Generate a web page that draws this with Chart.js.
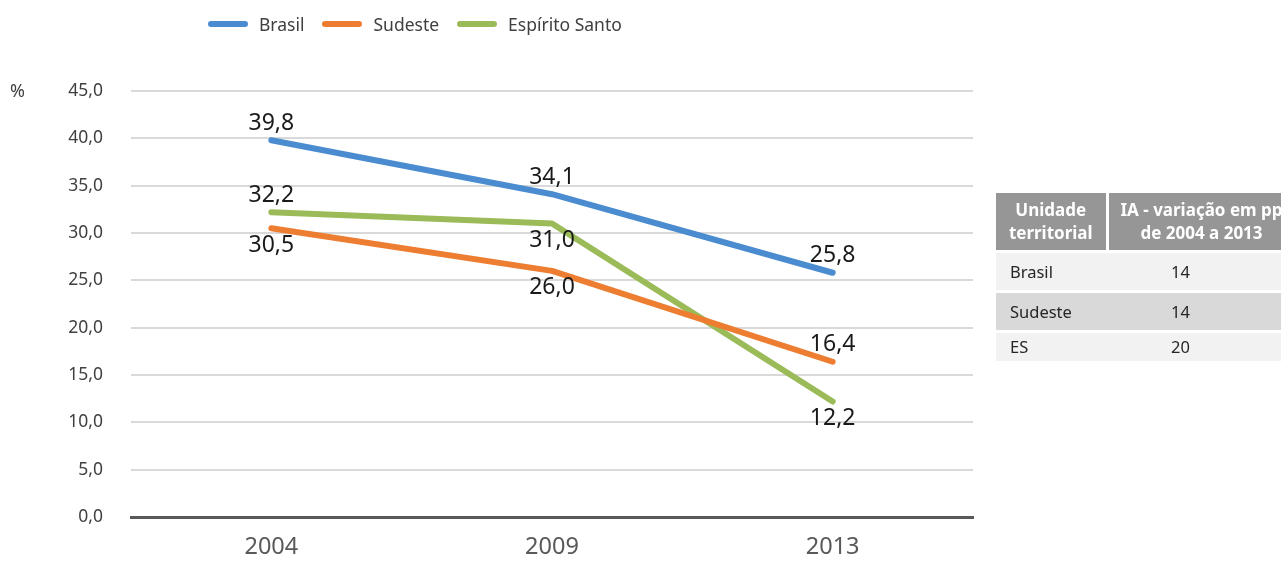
<!DOCTYPE html>
<html>
<head>
<meta charset="utf-8">
<script src="https://cdn.jsdelivr.net/npm/chart.js@4"></script>
<style>
  body { margin: 0; width: 1281px; height: 563px; overflow: hidden; background: #fff; font-family: 'Noto Sans', sans-serif; position: relative; }
  #wrap { position: absolute; left: 0; top: 0; width: 1281px; height: 563px; }
  #legend { position: absolute; left: 208px; top: 12px; display: flex; align-items: center; font-size: 17.5px; color: #404040; }
  #legend .item { display: flex; align-items: center; margin-right: 18px; }
  #legend .sw { width: 40px; height: 6px; border-radius: 3px; margin-right: 11px; }
  #pct { position: absolute; left: 10px; top: 78px; font-size: 18px; color: #404040; }
  #tbl { position: absolute; left: 996px; top: 193px; width: 300px; border-collapse: collapse; font-size: 16.5px; color: #262626; table-layout: fixed; }
  #tbl th { background: #969696; color: #fff; font-weight: bold; font-size: 17px; line-height: 23px; height: 58px; padding: 0; border-right: 3px solid #fff; box-sizing: border-box; white-space: nowrap; }
  #tbl td { height: 37px; padding: 0 0 0 14px; border-top: 3px solid #fff; }
  #tbl tr.a td { background: #f2f2f2; }
  #tbl tr.b td { background: #d9d9d9; }
</style>
</head>
<body>
<div id="wrap"><canvas id="chart"></canvas></div>
<div id="legend"></div>
<div id="pct">%</div>
<table id="tbl"></table>
<script>
const years = ['2004', '2009', '2013'];
const brasil = [39.8, 34.1, 25.8];
const sudeste = [30.5, 26.0, 16.4];
const espiritoSanto = [32.2, 31.0, 12.2];

const tableHead = ['Unidade<br>territorial', 'IA - variação em pp<br>de 2004 a 2013'];
const tableUnits = ['Brasil', 'Sudeste', 'ES'];
const tableValues = [14, 14, 20];

// where each value label sits relative to its point
const labelSide = [
  ['top', 'top', 'top'],
  ['bottom', 'bottom', 'top'],
  ['top', 'bottom', 'bottom']
];

const fmt = v => v.toFixed(1).replace('.', ',');

const valueLabels = {
  id: 'valueLabels',
  afterDatasetsDraw(chart) {
    const c = chart.ctx;
    c.save();
    c.font = '23px "Noto Sans"';
    c.fillStyle = '#1a1a1a';
    c.textAlign = 'center';
    c.textBaseline = 'middle';
    chart.data.datasets.forEach((ds, i) => {
      chart.getDatasetMeta(i).data.forEach((pt, j) => {
        const dy = labelSide[i][j] === 'top' ? -17 : 17;
        c.fillText(fmt(ds.data[j]), pt.x, pt.y + dy);
      });
    });
    c.restore();
  }
};

const chart = new Chart(document.getElementById('chart'), {
  type: 'line',
  data: {
    labels: years,
    datasets: [
      { label: 'Brasil', data: brasil, borderColor: '#4a8ccf', backgroundColor: '#4a8ccf' },
      { label: 'Sudeste', data: sudeste, borderColor: '#ed7d31', backgroundColor: '#ed7d31' },
      { label: 'Espírito Santo', data: espiritoSanto, borderColor: '#9bbb59', backgroundColor: '#9bbb59' }
    ]
  },
  options: {
    responsive: true,
    maintainAspectRatio: false,
    animation: false,
    elements: {
      line: { borderWidth: 6, tension: 0, borderCapStyle: 'round', borderJoinStyle: 'round' },
      point: { radius: 0 }
    },
    layout: { padding: { top: 91, right: 308, bottom: 0, left: 0 } },
    scales: {
      x: {
        offset: true,
        grid: { display: false },
        border: { color: '#595959', width: 3 },
        ticks: { color: '#595959', font: { family: 'Noto Sans', size: 23.5 }, padding: 8 },
        afterFit(s) { s.height = 46; }
      },
      y: {
        min: 0,
        max: 45,
        ticks: {
          stepSize: 5,
          color: '#404040',
          padding: 28,
          font: { family: 'Noto Sans', size: 17.5 },
          callback: v => fmt(v)
        },
        grid: { color: '#d9d9d9', lineWidth: 2, drawTicks: false },
        border: { display: false },
        afterFit(s) { s.width = 131; }
      }
    },
    plugins: {
      legend: { display: false },
      tooltip: { enabled: false }
    }
  },
  plugins: [valueLabels]
});

// html legend from the datasets
const leg = document.getElementById('legend');
chart.data.datasets.forEach(ds => {
  const it = document.createElement('div');
  it.className = 'item';
  it.innerHTML = '<span class="sw" style="background:' + ds.borderColor + '"></span>' + ds.label;
  leg.appendChild(it);
});

// side table (runs past the right edge like the original)
const tbl = document.getElementById('tbl');
let html = '<colgroup><col style="width:111px"><col style="width:189px"></colgroup>';
html += '<tr><th>' + tableHead[0] + '</th><th>' + tableHead[1] + '</th></tr>';
tableUnits.forEach((u, i) => {
  const h = i === tableUnits.length - 1 ? 28 : 37;
  html += '<tr class="' + (i % 2 ? 'b' : 'a') + '"><td style="height:' + h + 'px">' + u + '</td>' +
    '<td style="height:' + h + 'px;padding-left:64px">' + tableValues[i] + '</td></tr>';
});
tbl.innerHTML = html;
</script>
</body>
</html>
